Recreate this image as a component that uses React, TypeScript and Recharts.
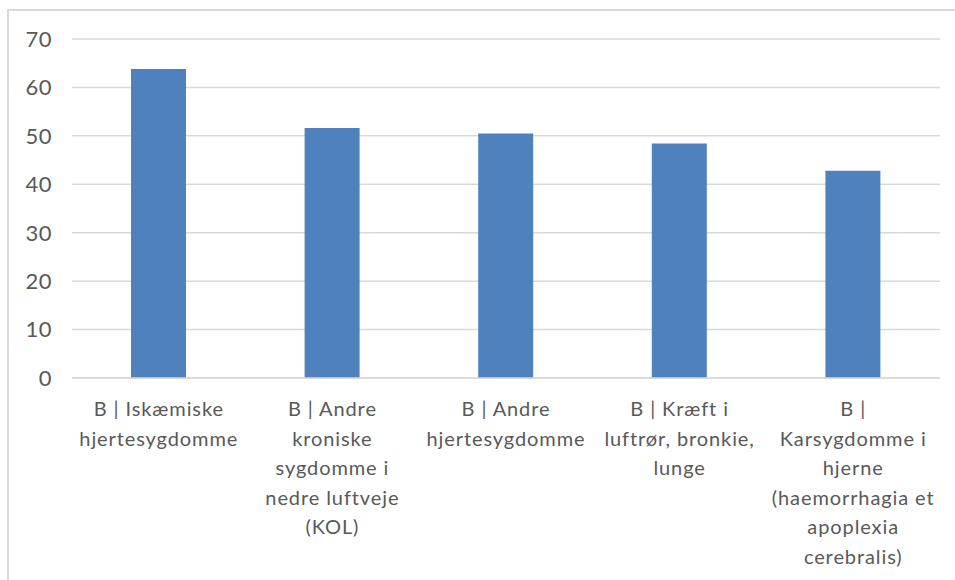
import React from 'react';
import { BarChart, Bar, XAxis, YAxis, CartesianGrid } from 'recharts';

const categories = [
    'B | Iskæmiske hjertesygdomme',
    'B | Andre kroniske sygdomme i nedre luftveje (KOL)',
    'B | Andre hjertesygdomme',
    'B | Kræft i luftrør, bronkie, lunge',
    'B | Karsygdomme i hjerne (haemorrhagia et apoplexia cerebralis)',
];

// wrapped lines as they show under the axis
const categoryLines = [
    ['B | Iskæmiske', 'hjertesygdomme'],
    ['B | Andre', 'kroniske', 'sygdomme i', 'nedre luftveje', '(KOL)'],
    ['B | Andre', 'hjertesygdomme'],
    ['B | Kræft i', 'luftrør, bronkie,', 'lunge'],
    ['B |', 'Karsygdomme i', 'hjerne', '(haemorrhagia et', 'apoplexia', 'cerebralis)'],
];

const values = [63.8, 51.6, 50.5, 48.4, 42.8];

const yTicks = [0, 10, 20, 30, 40, 50, 60, 70];

const data = categories.map((name, i) => ({ name, value: values[i] }));

const FONT = 'Lato, "Open Sans", sans-serif';
const TEXT_COLOR = '#595959';

const CategoryTick = (props: any) => {
    const { x, y, index } = props;
    const lines = categoryLines[index] || [];
    return (
        <text x={x} y={y} textAnchor="middle" fill={TEXT_COLOR} fontFamily={FONT} fontSize={20} letterSpacing={0.9}>
            {lines.map((line, i) => (
                <tspan key={i} x={x} dy={i === 0 ? 38 : 29.5}>
                    {line}
                </tspan>
            ))}
        </text>
    );
};

export default function App() {
    return (
        <div style={{ position: 'absolute', left: 0, top: 0, width: 955, height: 580, background: '#fff', overflow: 'hidden' }}>
            <div
                style={{
                    position: 'absolute',
                    left: 7,
                    top: 9,
                    width: 960,
                    height: 590,
                    borderLeft: '2px solid #D9D9D9',
                    borderTop: '2px solid #D9D9D9',
                }}
            />
            <div style={{ position: 'absolute', left: 0, top: 0 }}>
                <BarChart
                    width={955}
                    height={580}
                    data={data}
                    margin={{ top: 39, right: 15, left: 12, bottom: 2 }}
                    barSize={55}
                >
                    <CartesianGrid vertical={false} stroke="#D9D9D9" strokeWidth={1.5} />
                    <XAxis
                        dataKey="name"
                        interval={0}
                        axisLine={{ stroke: '#D9D9D9', strokeWidth: 1.5 }}
                        tickLine={false}
                        tickSize={0}
                        tickMargin={0}
                        tick={<CategoryTick />}
                        height={200}
                    />
                    <YAxis
                        width={60}
                        domain={[0, 70]}
                        ticks={yTicks}
                        axisLine={false}
                        tickLine={false}
                        tickSize={0}
                        tickMargin={20}
                        tick={{ fill: TEXT_COLOR, fontSize: 22, fontFamily: FONT, letterSpacing: 0.5 }}
                    />
                    <Bar dataKey="value" fill="#4F81BD" isAnimationActive={false} />
                </BarChart>
            </div>
        </div>
    );
}
